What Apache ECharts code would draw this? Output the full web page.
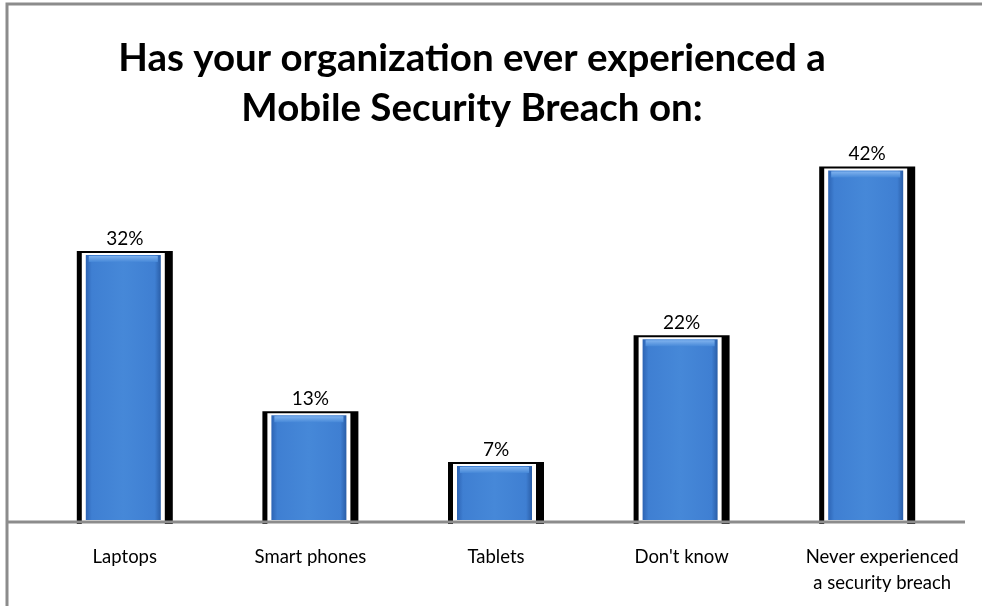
<!DOCTYPE html>
<html>
<head>
<meta charset="utf-8">
<script src="https://cdn.jsdelivr.net/npm/echarts@6/dist/echarts.min.js"></script>
<style>html,body{margin:0;padding:0;background:#fff;}#c{width:982px;height:606px;}</style>
</head>
<body>
<div id="c"></div>
<script>
const categories = ['Laptops', 'Smart phones', 'Tablets', "Don't know", 'Never experienced\na security breach'];
const values = [32, 13, 7, 22, 42];
const titleText = 'Has your organization ever experienced a\nMobile Security Breach on:';

const chart = echarts.init(document.getElementById('c'));
const blueGrad = new echarts.graphic.LinearGradient(0, 0, 1, 0, [
  {offset: 0, color: '#2d64b4'},
  {offset: 0.08, color: '#3f7fd2'},
  {offset: 0.5, color: '#4688d8'},
  {offset: 0.92, color: '#3f7fd2'},
  {offset: 1, color: '#2a5ea8'}
]);
const topGrad = new echarts.graphic.LinearGradient(0, 0, 0, 1, [
  {offset: 0, color: '#7fb2ee'},
  {offset: 1, color: '#4688d8'}
]);
const labelShift = [0, 0, 0, 0, 30];
const option = {
  animation: false,
  backgroundColor: '#fff',
  title: {
    text: titleText,
    left: 467, top: 29,
    textAlign: 'center',
    textStyle: {fontFamily: 'Lato', fontWeight: 'bold', fontSize: 38.5, lineHeight: 50, color: '#000'}
  },
  grid: {left: 32, right: 22, top: 99, bottom: 85, containLabel: false},
  xAxis: {
    type: 'category',
    data: categories.map((c, i) => ({value: c, textStyle: {padding: [0, 0, 0, labelShift[i]]}})),
    axisLine: {show: false}, axisTick: {show: false},
    axisLabel: {fontFamily: 'Lato', fontSize: 18.5, color: '#000', margin: 23, lineHeight: 26, interval: 0}
  },
  yAxis: {type: 'value', min: 0, max: 50, show: false, splitLine: {show: false}},
  graphic: [
    {type: 'rect', shape: {x: 7, y: 4, width: 1000, height: 700}, style: {fill: 'none', stroke: '#8c8c8c', lineWidth: 3}, z: 100},
    {type: 'line', shape: {x1: 8, y1: 522, x2: 965, y2: 522}, style: {stroke: '#8c8c8c', lineWidth: 3}, z: 50}
  ],
  series: [{
    type: 'custom',
    data: values.map((v, i) => [i, v]),
    encode: {x: 0, y: 1},
    renderItem: function (params, api) {
      const v = api.value(1);
      const c = api.coord([api.value(0), v]);
      const b = api.coord([api.value(0), 0]);
      const x = c[0], top = c[1], base = b[1] + 3;
      const h = base - top;
      return {
        type: 'group',
        children: [
          {type: 'rect', shape: {x: x - 48, y: top, width: 96, height: h}, style: {fill: '#000'}},
          {type: 'rect', shape: {x: x - 43, y: top + 2, width: 83, height: h - 2}, style: {fill: '#fff'}},
          {type: 'rect', shape: {x: x - 39, y: top + 4, width: 75, height: h - 8}, style: {fill: blueGrad}},
          {type: 'rect', shape: {x: x - 36, y: top + 5, width: 69, height: 6}, style: {fill: topGrad}},
          {type: 'text', style: {text: v + '%', x: x, y: top - 3, align: 'center', verticalAlign: 'bottom', fill: '#000', font: '19px Lato'}}
        ]
      };
    }
  }]
};
chart.setOption(option);
</script>
</body>
</html>
